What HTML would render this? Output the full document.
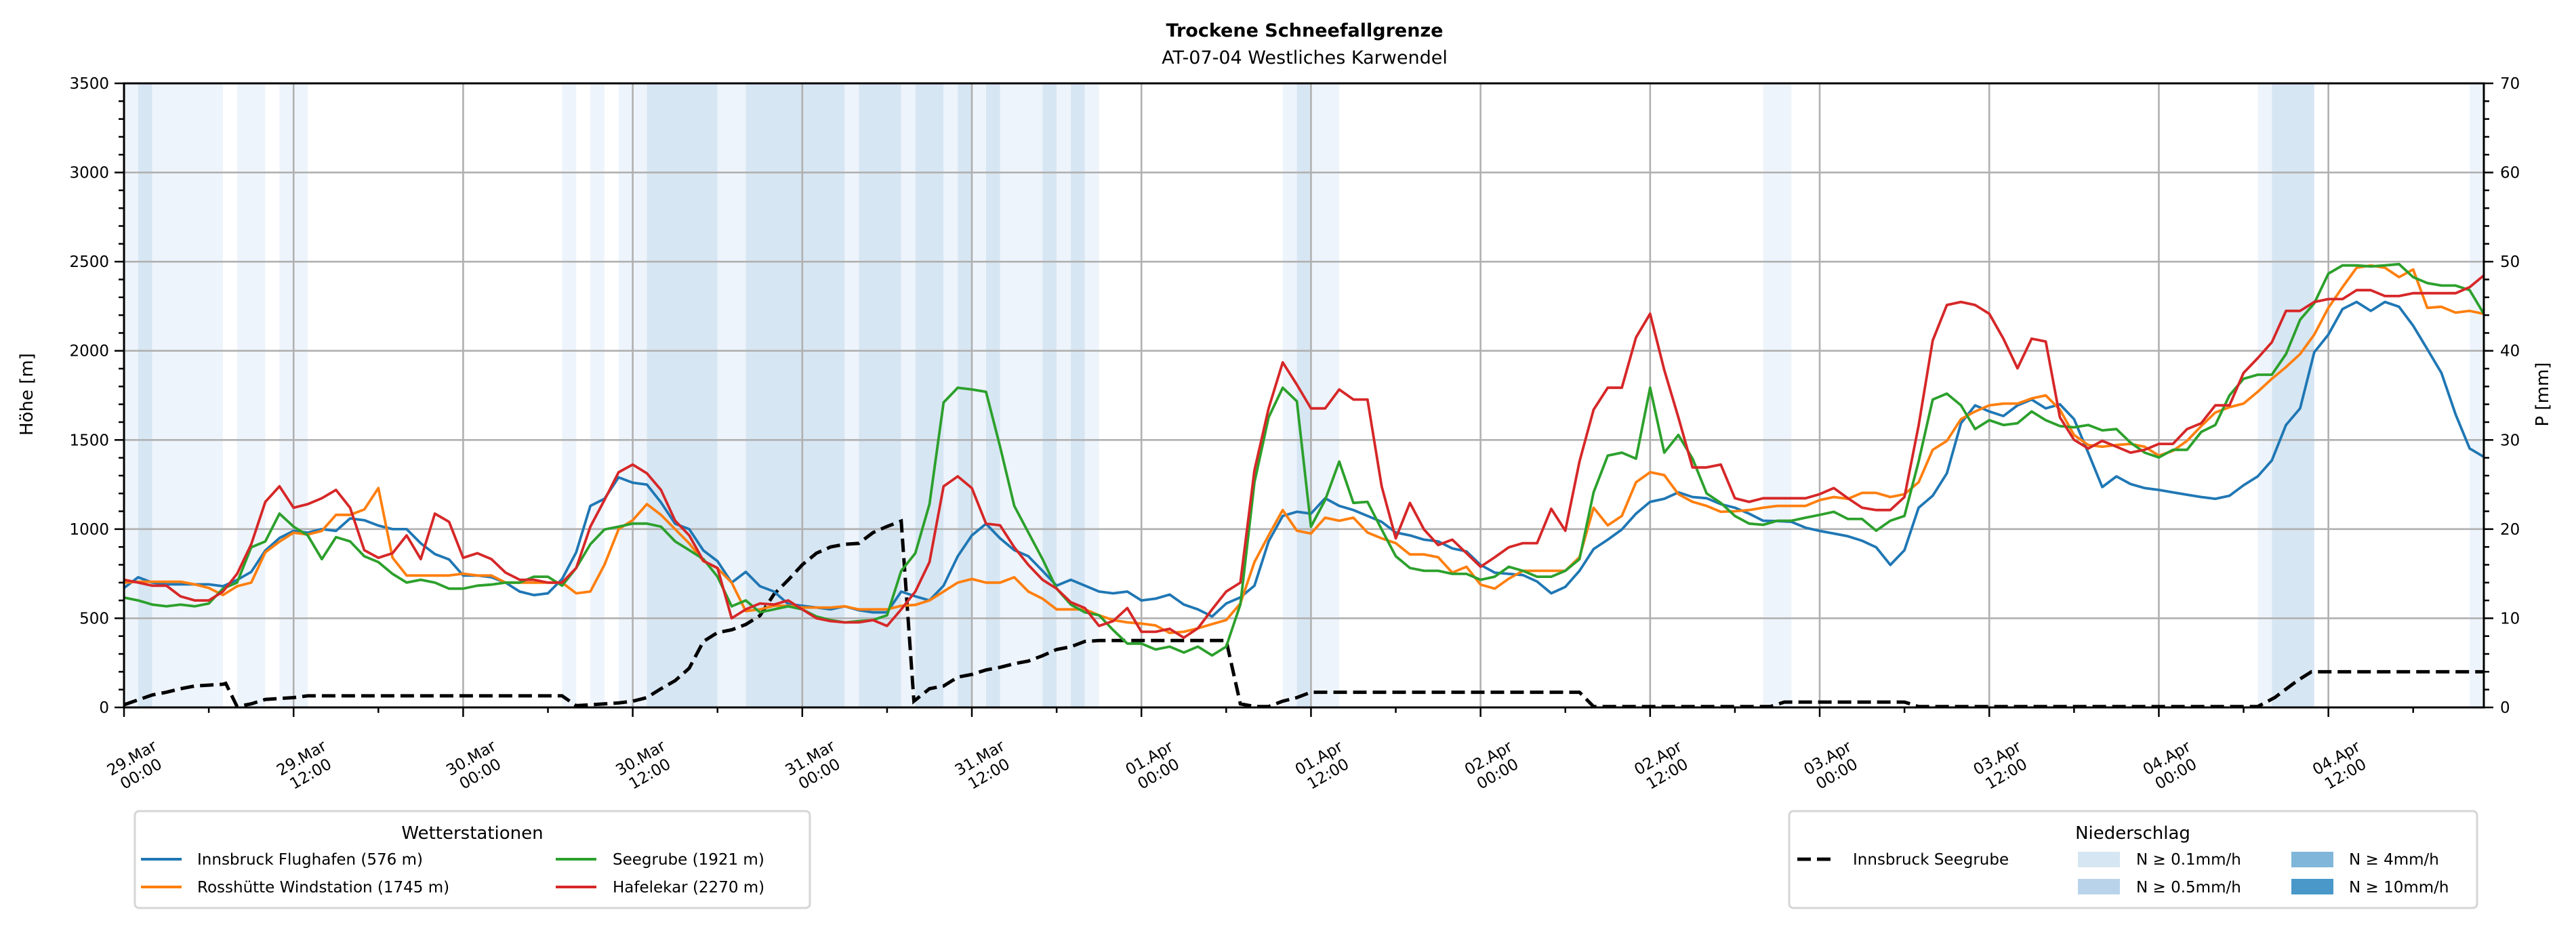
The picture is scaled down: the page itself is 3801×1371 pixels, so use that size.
<!DOCTYPE html>
<html><head><meta charset="utf-8"><style>
html,body{margin:0;padding:0;background:#fff;}
svg{display:block;font-family:"DejaVu Sans","Liberation Sans",sans-serif;}
</style></head><body>
<svg id="chart" width="3801" height="1371" viewBox="0 0 3801 1371" xmlns="http://www.w3.org/2000/svg">
<rect x="0" y="0" width="3801" height="1371" fill="#fff"/>
<text x="1925" y="54" text-anchor="middle" font-size="27" font-weight="bold">Trockene Schneefallgrenze</text>
<text x="1925" y="94" text-anchor="middle" font-size="27">AT-07-04 Westliches Karwendel</text>
<g id="bands"></g>
<g id="grid"></g>
<g id="series"></g>
<g id="axes"></g>
<text transform="translate(48,582) rotate(-90)" text-anchor="middle" font-size="26">Höhe [m]</text>
<text transform="translate(3760,582) rotate(-90)" text-anchor="middle" font-size="26">P [mm]</text>
<g>
<rect x="199" y="1197" width="996" height="143" rx="6" fill="#fff" stroke="#d6d6d6" stroke-width="3"/>
<text x="697" y="1238" text-anchor="middle" font-size="26">Wetterstationen</text>
<g><line x1="208" y1="1268" x2="268" y2="1268" stroke="#1f77b4" stroke-width="4"/><text x="291" y="1276" font-size="23">Innsbruck Flughafen (576 m)</text></g>
<g><line x1="208" y1="1309" x2="268" y2="1309" stroke="#ff7f0e" stroke-width="4"/><text x="291" y="1317" font-size="23">Rosshütte Windstation (1745 m)</text></g>
<g><line x1="820" y1="1268" x2="880" y2="1268" stroke="#2ca02c" stroke-width="4"/><text x="904" y="1276" font-size="23">Seegrube (1921 m)</text></g>
<g><line x1="820" y1="1309" x2="880" y2="1309" stroke="#d62728" stroke-width="4"/><text x="904" y="1317" font-size="23">Hafelekar (2270 m)</text></g>
</g>
<g>
<rect x="2640" y="1197" width="1015" height="143" rx="6" fill="#fff" stroke="#d6d6d6" stroke-width="3"/>
<text x="3147" y="1238" text-anchor="middle" font-size="26">Niederschlag</text>
<g><line x1="2652" y1="1268" x2="2708" y2="1268" stroke="#000" stroke-width="5" stroke-dasharray="20 9"/><text x="2734" y="1276" font-size="23">Innsbruck Seegrube</text></g>
<g><rect x="3066" y="1257" width="62" height="23" fill="#d6e6f3"/><text x="3152" y="1276" font-size="23">N ≥ 0.1mm/h</text></g>
<g><rect x="3066" y="1297" width="62" height="23" fill="#b9d4ea"/><text x="3152" y="1317" font-size="23">N ≥ 0.5mm/h</text></g>
<g><rect x="3381" y="1257" width="62" height="23" fill="#80b6da"/><text x="3466" y="1276" font-size="23">N ≥ 4mm/h</text></g>
<g><rect x="3381" y="1297" width="62" height="23" fill="#4a97c9"/><text x="3466" y="1317" font-size="23">N ≥ 10mm/h</text></g>
</g>
</svg>
<script>
const bandStart=[0,1,2,8,11,31,33,35,37,42,44,51,52,55,56,58,59,60,61,62,65,66,67,68,82,83,84,116,151,152,166];
const bandEnd=[1,2,7,10,13,32,34,37,42,44,51,52,55,56,58,59,60,61,62,65,66,67,68,69,83,84,86,118,152,155,167];
const bandLevel=[0,1,0,0,0,0,0,0,1,0,1,0,1,0,1,0,1,0,1,0,1,0,1,0,0,1,0,0,0,1,0];
const innsbruck=[670,730,700,690,690,690,690,680,715,760,880,950,990,980,1000,990,1060,1050,1020,1000,1000,920,860,830,740,740,730,700,650,630,640,720,870,1130,1170,1290,1260,1250,1150,1030,1000,880,820,700,760,680,650,580,570,560,550,567,545,533,533,650,623,600,683,848,965,1030,948,882,848,766,683,716,683,650,640,650,600,610,633,577,550,510,583,617,683,931,1074,1097,1087,1173,1130,1107,1074,1041,981,965,941,931,892,875,799,756,749,742,706,640,676,766,888,941,998,1087,1153,1170,1206,1180,1173,1140,1120,1087,1047,1045,1041,1008,990,975,960,935,898,799,882,1120,1187,1313,1594,1694,1660,1634,1694,1727,1677,1700,1617,1429,1236,1296,1253,1230,1220,1206,1193,1180,1170,1187,1246,1296,1385,1584,1677,1992,2091,2234,2274,2224,2274,2247,2141,2009,1876,1644,1452,1405];
const rosshuette=[700,705,705,705,705,690,670,630,680,700,870,930,980,970,990,1080,1080,1110,1230,840,740,740,740,740,750,740,740,700,700,700,700,700,640,650,800,1000,1050,1140,1080,1000,920,820,780,700,540,550,570,570,560,560,560,567,550,550,550,570,575,600,650,700,720,700,700,730,650,610,550,550,550,517,490,477,470,460,418,424,444,467,490,583,815,965,1107,991,975,1064,1047,1064,981,948,921,858,858,842,756,789,689,666,722,766,766,766,766,842,1120,1021,1074,1263,1319,1303,1196,1153,1130,1097,1100,1107,1120,1130,1130,1130,1163,1180,1170,1203,1203,1180,1196,1263,1445,1495,1617,1660,1694,1704,1704,1733,1750,1670,1528,1472,1462,1472,1478,1462,1412,1439,1495,1578,1654,1684,1704,1770,1843,1909,1982,2091,2241,2357,2466,2479,2466,2413,2456,2241,2247,2214,2224,2207];
const seegrube=[616,600,577,567,577,567,583,666,700,898,931,1087,1014,965,832,955,931,848,815,749,700,716,700,666,666,683,689,700,700,733,733,683,782,915,998,1014,1031,1031,1014,931,882,832,733,567,600,533,550,567,550,510,490,477,484,490,517,766,865,1140,1710,1793,1783,1770,1462,1130,981,832,666,577,533,517,434,358,358,325,341,308,341,292,341,577,1263,1627,1793,1717,1014,1163,1379,1147,1153,998,848,782,766,766,749,749,716,733,789,766,733,733,766,832,1206,1412,1429,1395,1793,1429,1528,1395,1200,1147,1074,1031,1024,1047,1047,1064,1080,1097,1057,1057,991,1047,1074,1379,1727,1760,1694,1561,1611,1584,1594,1660,1611,1578,1571,1584,1554,1561,1485,1429,1402,1445,1445,1545,1584,1750,1843,1866,1866,1982,2174,2267,2433,2479,2479,2473,2479,2486,2413,2380,2366,2366,2340,2207];
const hafelekar=[716,700,683,683,623,600,600,650,749,915,1153,1240,1120,1140,1173,1220,1120,882,839,865,965,832,1087,1041,839,865,832,756,716,716,700,700,782,1014,1163,1319,1362,1313,1220,1047,965,822,782,500,550,583,577,600,550,500,484,477,477,490,457,550,650,815,1240,1296,1230,1031,1021,898,799,716,666,590,557,457,484,557,424,424,441,391,444,550,650,700,1330,1677,1935,1810,1677,1677,1783,1727,1727,1240,948,1147,998,911,941,865,789,842,898,921,921,1114,991,1379,1670,1793,1793,2075,2208,1892,1627,1346,1346,1362,1173,1153,1173,1173,1173,1173,1196,1230,1173,1120,1107,1107,1180,1581,2058,2257,2274,2257,2208,2068,1902,2068,2052,1627,1501,1452,1495,1462,1429,1445,1478,1478,1561,1594,1694,1694,1876,1959,2048,2224,2224,2274,2290,2290,2340,2340,2307,2307,2323,2323,2323,2323,2357,2423];
const precipHours=[0,2,3,4,5,6,7,7.2,8,9,10,12,13,31,32,33,35,36,37,38,39,40,41,42,43,44,45,46,47,48,49,50,51,52,53,54,55,55.9,57,58,59,60,61,62,63,64,65,66,67,68,69,78,79,80,81,82,83,84,103,104,116.5,117.5,126,127,151,152.2,153.8,154.8,167];
const precipValues=[0.3,1.4,1.7,2.1,2.4,2.5,2.6,2.7,0.1,0.4,0.9,1.1,1.3,1.3,0.2,0.3,0.5,0.7,1.1,2.1,3.0,4.4,7.4,8.4,8.7,9.3,10.3,12.7,14.3,16.0,17.3,18.0,18.3,18.4,19.6,20.3,20.9,0.7,2.1,2.4,3.4,3.7,4.2,4.5,4.9,5.2,5.8,6.5,6.8,7.4,7.5,7.5,0.4,0.1,0.1,0.7,1.1,1.7,1.7,0.1,0.1,0.6,0.6,0.1,0.1,1.1,3.0,4.0,4.0];
const dayLabels=["29.Mar","29.Mar","30.Mar","30.Mar","31.Mar","31.Mar","01.Apr","01.Apr","02.Apr","02.Apr","03.Apr","03.Apr","04.Apr","04.Apr"];
const timeLabels=["00:00","12:00","00:00","12:00","00:00","12:00","00:00","12:00","00:00","12:00","00:00","12:00","00:00","12:00"];
const yTicks=[0,500,1000,1500,2000,2500,3000,3500];
const y2Ticks=[0,10,20,30,40,50,60,70];

const NS="http://www.w3.org/2000/svg";
const L=183,R=3665,T=123,B=1044,HMAX=167,YMAX=3500,PMAX=70;
const X=h=>L+h*(R-L)/HMAX;
const Y=v=>B-v*(B-T)/YMAX;
const YP=v=>B-v*(B-T)/PMAX;
function mk(tag,attrs,parent){const e=document.createElementNS(NS,tag);for(const k in attrs)e.setAttribute(k,attrs[k]);parent.appendChild(e);return e;}

const bands=document.getElementById('bands');
for(let i=0;i<bandStart.length;i++){
  const r=mk('rect',{x:X(bandStart[i]),y:T,width:X(bandEnd[i])-X(bandStart[i]),height:B-T,fill:bandLevel[i]?'#d7e6f3':'#eef4fb'},bands);
  
  
}
const grid=document.getElementById('grid');
for(let i=0;i<dayLabels.length;i++){
  const l=mk('line',{x1:X(i*12),x2:X(i*12),y1:T,y2:B,stroke:'#b0b0b0','stroke-width':2.6},grid);
  
  
}
yTicks.forEach(v=>{
  const l=mk('line',{x1:L,x2:R,y1:Y(v),y2:Y(v),stroke:'#b0b0b0','stroke-width':2.6},grid);
  
  
});

const ser=document.getElementById('series');
function path(vals,hours,fn){return vals.map((v,i)=>(i?'L':'M')+X(hours?hours[i]:i).toFixed(1)+','+fn(v).toFixed(1)).join(' ');}
const defs=[[innsbruck,'#1f77b4','line-innsbruck-flughafen'],[rosshuette,'#ff7f0e','line-rosshuette'],[seegrube,'#2ca02c','line-seegrube'],[hafelekar,'#d62728','line-hafelekar']];
const pp=mk('path',{d:path(precipValues,precipHours,YP),fill:'none',stroke:'#000','stroke-width':5,'stroke-dasharray':'20 9'},ser);


defs.forEach(d=>{
  const p=mk('path',{d:path(d[0],null,Y),fill:'none',stroke:d[1],'stroke-width':3.8,'stroke-linejoin':'round'},ser);
  
  
});

const ax=document.getElementById('axes');
mk('rect',{x:L,y:T,width:R-L,height:B-T,fill:'none',stroke:'#000','stroke-width':3},ax);
for(let h=0;h<=HMAX;h+=6){
  const major=h%12===0;
  const t=mk('line',{x1:X(h),x2:X(h),y1:B,y2:B+(major?14:8),stroke:'#000','stroke-width':2.5},ax);
  
  
}
for(let i=0;i<dayLabels.length;i++){
  const g=mk('g',{transform:`translate(${X(i*12)+17},1128) rotate(-30)`},ax);
  
  
  const t1=mk('text',{x:0,y:-3,'text-anchor':'middle','font-size':23},g);t1.textContent=dayLabels[i];
  const t2=mk('text',{x:0,y:24,'text-anchor':'middle','font-size':23},g);t2.textContent=timeLabels[i];
}
for(let v=0;v<=YMAX;v+=100){
  const major=v%500===0;
  const t=mk('line',{x1:L-(major?14:8),x2:L,y1:Y(v),y2:Y(v),stroke:'#000','stroke-width':2.5},ax);
  
  
}
yTicks.forEach(v=>{
  const t=mk('text',{x:L-22,y:Y(v)+8,'text-anchor':'end','font-size':23},ax);
  t.textContent=v;
  
  
});
for(let v=0;v<=PMAX;v+=2){
  const major=v%10===0;
  const t=mk('line',{x1:R,x2:R+(major?14:8),y1:YP(v),y2:YP(v),stroke:'#000','stroke-width':2.5},ax);
  
  
}
y2Ticks.forEach(v=>{
  const t=mk('text',{x:R+24,y:YP(v)+8,'text-anchor':'start','font-size':23},ax);
  t.textContent=v;
  
  
});
</script>
</body></html>
